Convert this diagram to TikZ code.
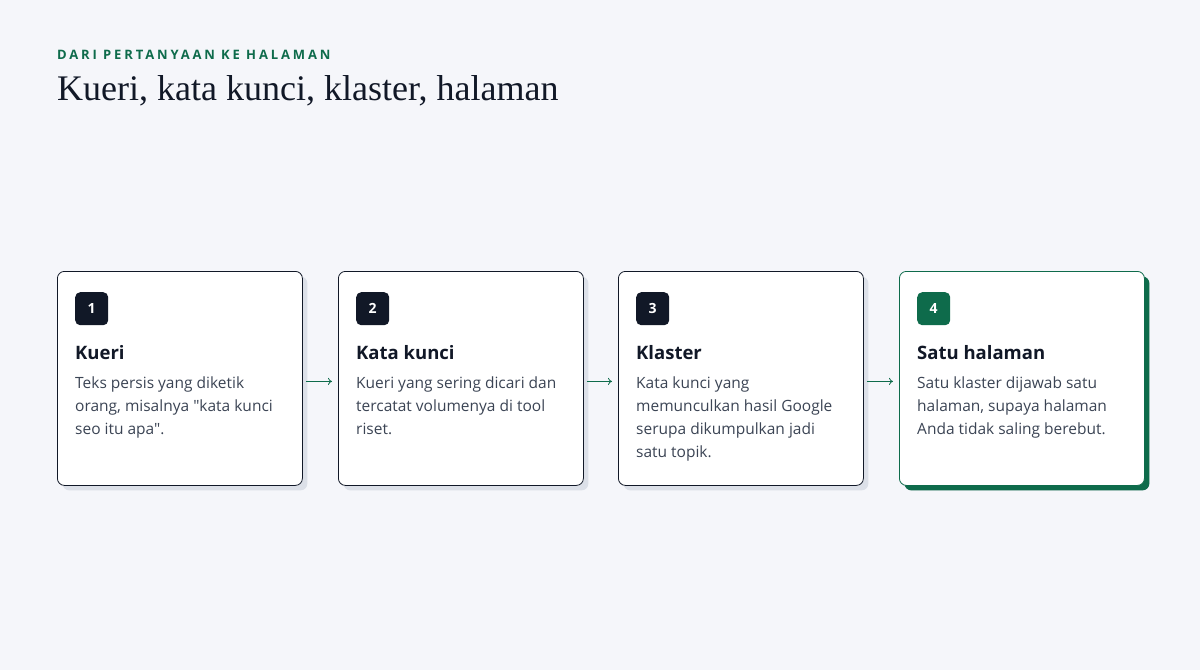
\documentclass[tikz,border=0pt]{standalone}
\usepackage{fontspec}
\setmainfont{Open Sans}[Ligatures=TeXOff]
\newfontfamily\titlefont{Liberation Serif}
\newfontfamily\kickerfont[LetterSpace=22]{Open Sans}
\usetikzlibrary{shadows,arrows.meta}
\definecolor{pagebg}{HTML}{F5F6FA}
\definecolor{ink}{HTML}{111827}
\definecolor{bodyink}{HTML}{3B4454}
\definecolor{leaf}{HTML}{0E6B4B}
\definecolor{shade}{HTML}{DCE0E8}
\begin{document}
\begin{tikzpicture}[x=1pt,y=-1pt,
    card/.style ={draw=ink, line width=0.8pt, fill=white, rounded corners=7pt,
      minimum width=245pt, minimum height=214pt, anchor=north west, inner sep=0pt,
      drop shadow={shadow xshift=5pt, shadow yshift=-5pt, fill=shade, opacity=1}},
    lastcard/.style ={card, draw=leaf,
      drop shadow={shadow xshift=5pt, shadow yshift=-5pt, fill=leaf, opacity=1}},
    badge/.style ={fill=ink, rounded corners=5pt, minimum size=33pt, inner sep=0pt,
      anchor=north west, text=white, font=\bfseries\fontsize{14}{14}\selectfont},
    heading/.style ={anchor=base west, inner sep=0pt, text=ink,
      font=\bfseries\fontsize{18.5}{19}\selectfont},
    blurb/.style ={anchor=north west, inner sep=0pt, text=bodyink, align=left,
      font=\fontsize{15.5}{23}\selectfont},
    step arrow/.style ={draw=leaf, line width=0.8pt, -{To[length=4pt,width=7pt]}}]
   \useasboundingbox[fill=pagebg] (0,0) rectangle (1200,670);

   % header
   \node[anchor=base west, inner sep=0pt, text=leaf,
     font=\kickerfont\bfseries\fontsize{13}{13}\selectfont] (kicker) at (57,59) {DARI PERTANYAAN KE HALAMAN};
   \node[anchor=base west, inner sep=0pt, text=ink,
     font=\titlefont\fontsize{36}{36}\selectfont] (title) at (57,100) {Kueri, kata kunci, klaster, halaman};

   % cards
   \node[card] (card1) at (57,271) {};
   \node[card] (card2) at (338,271) {};
   \node[card] (card3) at (618,271) {};
   \node[lastcard] (card4) at (899,271) {};

   \node[badge] (badge1) at (75,292) {1};
   \node[badge] (badge2) at (356,292) {2};
   \node[badge] (badge3) at (636,292) {3};
   \node[badge, fill=leaf] (badge4) at (917,292) {4};

   \node[heading] (head1) at (75,359) {Kueri};
   \node[heading] (head2) at (356,359) {Kata kunci};
   \node[heading] (head3) at (636,359) {Klaster};
   \node[heading] (head4) at (917,359) {Satu halaman};

   \node[blurb] (text1) at (75,377) {Teks persis yang diketik\\orang, misalnya "kata kunci\\seo itu apa".};
   \node[blurb] (text2) at (356,377) {Kueri yang sering dicari dan\\tercatat volumenya di tool\\riset.};
   \node[blurb] (text3) at (636,377) {Kata kunci yang\\memunculkan hasil Google\\serupa dikumpulkan jadi\\satu topik.};
   \node[blurb] (text4) at (917,377) {Satu klaster dijawab satu\\halaman, supaya halaman\\Anda tidak saling berebut.};

   % arrows
   \draw[step arrow] ([xshift=3pt,yshift=-3pt]card1.east) -- ([xshift=-6pt,yshift=-3pt]card2.west);
   \draw[step arrow] ([xshift=3pt,yshift=-3pt]card2.east) -- ([xshift=-6pt,yshift=-3pt]card3.west);
   \draw[step arrow] ([xshift=3pt,yshift=-3pt]card3.east) -- ([xshift=-6pt,yshift=-3pt]card4.west);
 \end{tikzpicture}
\end{document}
